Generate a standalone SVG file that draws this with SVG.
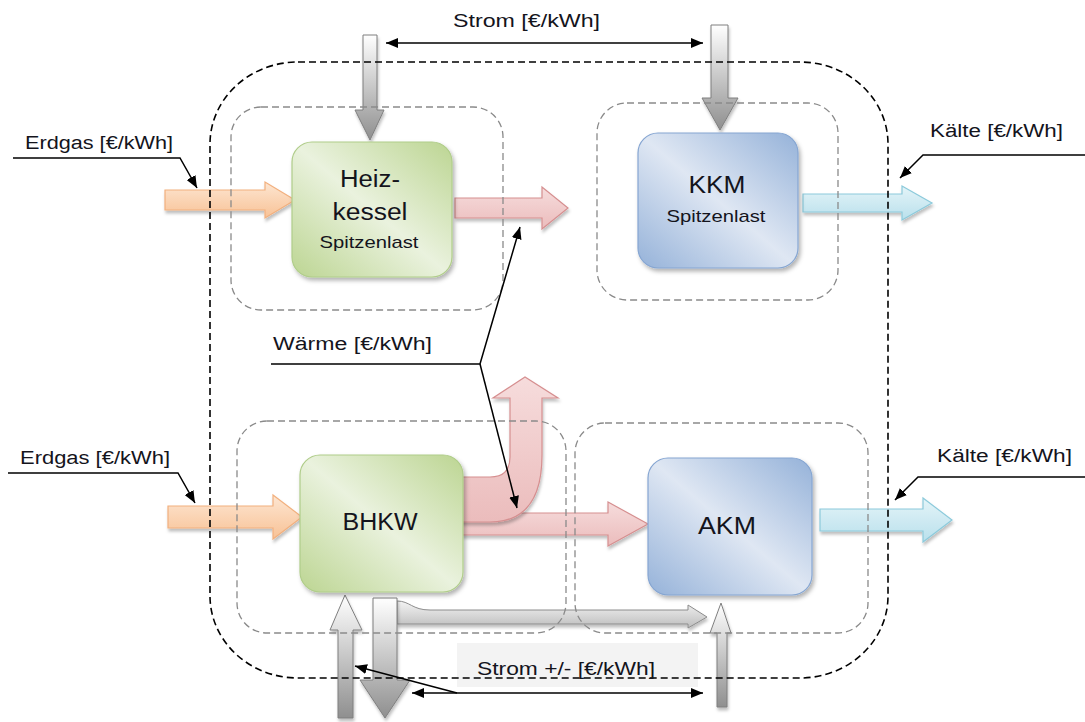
<svg xmlns="http://www.w3.org/2000/svg" width="1085" height="722" viewBox="0 0 1085 722">
  <style>
    .lbl { font-family: "Liberation Sans", Arial, sans-serif; font-size: 18px; fill: #14141c; }
    .big { font-family: "Liberation Sans", Arial, sans-serif; font-size: 23px; fill: #14141c; text-anchor: middle; }
    .sub { font-family: "Liberation Sans", Arial, sans-serif; font-size: 17px; fill: #14141c; text-anchor: middle; }
    .outer { fill: none; stroke: #000; stroke-width: 1.6; stroke-dasharray: 7 4; }
    .inner { fill: none; stroke: #8a8a8a; stroke-width: 1.3; stroke-dasharray: 7 4; }
    .lead { fill: none; stroke: #000; stroke-width: 1.5; }
    .gas { fill: url(#gGas); stroke: #f2b07e; stroke-width: 1.2; filter: url(#sh); }
    .heat { fill: url(#gHeat); stroke: #d68f90; stroke-width: 1.2; filter: url(#sh); }
    .cold { fill: url(#gCold); stroke: #8ccadb; stroke-width: 1.2; filter: url(#sh); }
    .elec { fill: url(#gElec); stroke: #7f7f7f; stroke-width: 1; filter: url(#sh); }
    .elecH { fill: url(#gElecH); stroke: #8c8c8c; stroke-width: 1; filter: url(#sh); }
    .nGreen { fill: url(#gGreen); stroke: #b0cd8a; stroke-width: 1.2; filter: url(#shN); }
    .nBlue { fill: url(#gBlue); stroke: #86a6d2; stroke-width: 1.2; filter: url(#shN); }
  </style>
  <defs>
    <filter id="sh" x="-20%" y="-20%" width="140%" height="150%">
      <feDropShadow dx="1" dy="3" stdDeviation="1.5" flood-color="#000" flood-opacity="0.25"/>
    </filter>
    <filter id="shN" x="-10%" y="-10%" width="125%" height="125%">
      <feDropShadow dx="2" dy="3" stdDeviation="2" flood-color="#000" flood-opacity="0.3"/>
    </filter>
    <linearGradient id="gGreen" x1="0" y1="1" x2="1" y2="0">
      <stop offset="0" stop-color="#bcd592"/>
      <stop offset="0.5" stop-color="#eaf2de"/>
      <stop offset="1" stop-color="#bcd592"/>
    </linearGradient>
    <linearGradient id="gBlue" x1="0" y1="1" x2="1" y2="0">
      <stop offset="0" stop-color="#95b2d9"/>
      <stop offset="0.5" stop-color="#dfe7f3"/>
      <stop offset="1" stop-color="#95b2d9"/>
    </linearGradient>
    <linearGradient id="gGas" x1="0" y1="0" x2="0" y2="1">
      <stop offset="0" stop-color="#fde6d2"/>
      <stop offset="1" stop-color="#f8c296"/>
    </linearGradient>
    <linearGradient id="gHeat" x1="0" y1="0" x2="0" y2="1">
      <stop offset="0" stop-color="#f6dcdc"/>
      <stop offset="1" stop-color="#ebbcbc"/>
    </linearGradient>
    <linearGradient id="gCold" x1="0" y1="0" x2="0" y2="1">
      <stop offset="0" stop-color="#e4f4f8"/>
      <stop offset="1" stop-color="#b9e0ec"/>
    </linearGradient>
    <linearGradient id="gElec" x1="0" y1="0" x2="0" y2="1">
      <stop offset="0" stop-color="#ffffff"/>
      <stop offset="1" stop-color="#8f8f8f"/>
    </linearGradient>
    <linearGradient id="gElecH" x1="0" y1="0" x2="0" y2="1">
      <stop offset="0" stop-color="#f4f4f4"/>
      <stop offset="1" stop-color="#bdbdbd"/>
    </linearGradient>
    <marker id="ah" viewBox="0 0 12 10" refX="12" refY="5" markerWidth="12" markerHeight="10" orient="auto-start-reverse" markerUnits="userSpaceOnUse">
      <path d="M0,0 L12,5 L0,10 Z" fill="#000"/>
    </marker>
  </defs>

  <rect width="1085" height="722" fill="#fff"/>

  <!-- label background for the grid electricity tariff -->
  <rect x="457" y="643" width="241" height="44" fill="#f3f3f3"/>

  <!-- energy flow arrows -->
  <g id="flows">
    <!-- natural gas inputs -->
    <path class="gas" d="M165,190 L265,190 L265,182 L295,200 L265,218 L265,210 L165,210 Z"/>
    <path class="gas" d="M168,506 L273,506 L273,495 L302,517 L273,539 L273,528 L168,528 Z"/>
    <!-- heat outputs -->
    <path class="heat" d="M455,198 L542,198 L542,187 L568,208 L542,229 L542,218 L455,218 Z"/>
    <path class="heat" d="M462,513 L608,513 L608,502 L648,524 L608,546 L608,535 L462,535 Z"/>
    <path class="heat" d="M458,477 L490,477 Q510,477 510,457 L510,398 L493,398 L525,377 L558,398 L542,398 L542,455 Q542,522 490,522 L458,522 Z"/>
    <!-- cooling outputs -->
    <path class="cold" d="M803,194 L902,194 L902,186 L932,203 L902,220 L902,212 L803,212 Z"/>
    <path class="cold" d="M820,509 L923,509 L923,498 L952,520 L923,542 L923,531 L820,531 Z"/>
    <!-- electricity: grid supply to the peak-load units -->
    <path class="elec" d="M363,35 L377,35 L377,110 L384,110 L370,140 L355,110 L363,110 Z"/>
    <path class="elec" d="M711,25 L728,25 L728,98 L738,98 L720,130 L702,98 L711,98 Z"/>
    <!-- electricity at the CHP unit and absorption chiller -->
    <path class="elecH" d="M397,601 C410,601 412,610 430,610 L688,610 L688,605 L707,617 L688,628 L688,624 L397,624 Z"/>
    <path class="elec" d="M338,718 L338,630 L330,630 L345,595 L362,630 L353,630 L353,718 Z"/>
    <path class="elec" d="M373,598 L397,598 L397,680 L410,680 L385,718 L360,680 L373,680 Z"/>
    <path class="elec" d="M717,707 L717,633 L710,633 L721,603 L731,633 L727,633 L727,707 Z"/>
  </g>

  <!-- system boundaries -->
  <g id="boundaries">
    <rect class="outer" x="210" y="62" width="678" height="616" rx="88" ry="82"/>
    <rect class="inner" x="231" y="107" width="272" height="203" rx="30"/>
    <rect class="inner" x="597" y="103" width="241" height="197" rx="30"/>
    <rect class="inner" x="237" y="421" width="329" height="212" rx="30"/>
    <rect class="inner" x="575" y="423" width="293" height="210" rx="30"/>
  </g>

  <!-- units -->
  <g id="heizkessel">
    <rect class="nGreen" x="292" y="142" width="160" height="135" rx="20"/>
    <text class="big" x="370" y="187" textLength="60" lengthAdjust="spacingAndGlyphs">Heiz-</text>
    <text class="big" x="370" y="220" textLength="75" lengthAdjust="spacingAndGlyphs">kessel</text>
    <text class="sub" x="369" y="248" textLength="99" lengthAdjust="spacingAndGlyphs">Spitzenlast</text>
  </g>
  <g id="kkm">
    <rect class="nBlue" x="638" y="133" width="160" height="135" rx="20"/>
    <text class="big" x="717" y="193" textLength="57" lengthAdjust="spacingAndGlyphs">KKM</text>
    <text class="sub" x="716" y="222" textLength="99" lengthAdjust="spacingAndGlyphs">Spitzenlast</text>
  </g>
  <g id="bhkw">
    <rect class="nGreen" x="300" y="455" width="163" height="137" rx="20"/>
    <text class="big" x="380" y="530" textLength="75" lengthAdjust="spacingAndGlyphs">BHKW</text>
  </g>
  <g id="akm">
    <rect class="nBlue" x="648" y="458" width="164" height="137" rx="20"/>
    <text class="big" x="727" y="534" textLength="58" lengthAdjust="spacingAndGlyphs">AKM</text>
  </g>

  <!-- price annotations -->
  <g id="connectors">
    <line class="lead" x1="386" y1="43" x2="703" y2="43" marker-start="url(#ah)" marker-end="url(#ah)"/>
    <line class="lead" x1="412" y1="693" x2="703" y2="693" marker-start="url(#ah)" marker-end="url(#ah)"/>
    <line class="lead" x1="457" y1="693" x2="355" y2="666" marker-end="url(#ah)"/>
    <polyline class="lead" points="13,158 180,158 197,188" marker-end="url(#ah)"/>
    <polyline class="lead" points="8,473 178,473 195,503" marker-end="url(#ah)"/>
    <polyline class="lead" points="1085,155 923,155 900,178" marker-end="url(#ah)"/>
    <polyline class="lead" points="1085,477 918,477 895,500" marker-end="url(#ah)"/>
    <polyline class="lead" points="271,364 480,364 520,227" marker-end="url(#ah)"/>
    <line class="lead" x1="480" y1="364" x2="517" y2="508" marker-end="url(#ah)"/>
  </g>

  <g id="labels">
    <text class="lbl" x="453" y="27" textLength="147" lengthAdjust="spacingAndGlyphs">Strom [€/kWh]</text>
    <text class="lbl" x="25" y="149" textLength="148" lengthAdjust="spacingAndGlyphs">Erdgas [€/kWh]</text>
    <text class="lbl" x="20" y="464" textLength="150" lengthAdjust="spacingAndGlyphs">Erdgas [€/kWh]</text>
    <text class="lbl" x="273" y="350" textLength="159" lengthAdjust="spacingAndGlyphs">Wärme [€/kWh]</text>
    <text class="lbl" x="930" y="137" textLength="133" lengthAdjust="spacingAndGlyphs">Kälte [€/kWh]</text>
    <text class="lbl" x="937" y="462" textLength="135" lengthAdjust="spacingAndGlyphs">Kälte [€/kWh]</text>
    <text class="lbl" x="477" y="675" textLength="178" lengthAdjust="spacingAndGlyphs">Strom +/- [€/kWh]</text>
  </g>
</svg>
